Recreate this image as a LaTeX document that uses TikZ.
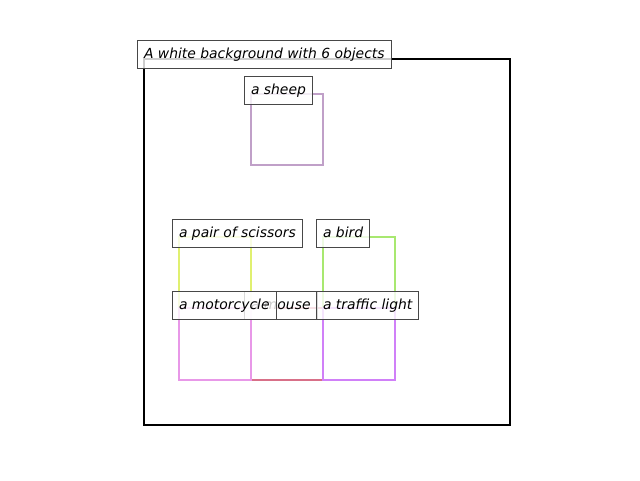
\documentclass[tikz,border=0pt]{standalone}
\usepackage{fontspec}
\setmainfont{DejaVu Sans}
\begin{document}
\begin{tikzpicture}[x=1pt,y=-1pt,
  objbox/.style={line width=2.4pt},
  lbl/.style={draw=black!72, line width=1pt, fill=white, fill opacity=0.8, text opacity=1,
    font=\fontsize{13.9}{16}\selectfont\itshape, inner xsep=6.5pt, inner ysep=0pt,
    text height=11.5pt, text depth=2.5pt, minimum height=28pt, anchor=west}]
\useasboundingbox (0,0) rectangle (640,480);
\definecolor{csheep}{HTML}{C0A0C8}
\definecolor{cscis}{HTML}{E0F070}
\definecolor{cbird}{HTML}{A8E870}
\definecolor{cmoto}{HTML}{E898E8}
\definecolor{cmouse}{HTML}{D87088}
\definecolor{ctraffic}{HTML}{D080F8}
% axes frame
\draw[line width=2pt] (144,59) rectangle (510,425);
% object boxes
\draw[objbox, csheep] (251,94) rectangle (323,165);
\draw[objbox, cscis] (179,237) rectangle (251,308);
\draw[objbox, cbird] (323,237) rectangle (395,308);
\draw[objbox, cmouse] (251,308) rectangle (323,380);
\draw[objbox, cmoto] (179,308) rectangle (251,380);
\draw[objbox, ctraffic] (323,308) rectangle (395,380);
% labels
\node[lbl] (title) at (137,54) {A white background with 6 objects};
\node[lbl] (sheep) at (244,90) {a sheep};
\node[lbl] (scis) at (172,233) {a pair of scissors};
\node[lbl] (bird) at (316,233) {a bird};
\node[lbl] (mouse) at (244,305) {a mouse};
\node[lbl] (moto) at (172,305) {a motorcycle};
\node[lbl] (traffic) at (316,305) {a traffic light};
\end{tikzpicture}
\end{document}
